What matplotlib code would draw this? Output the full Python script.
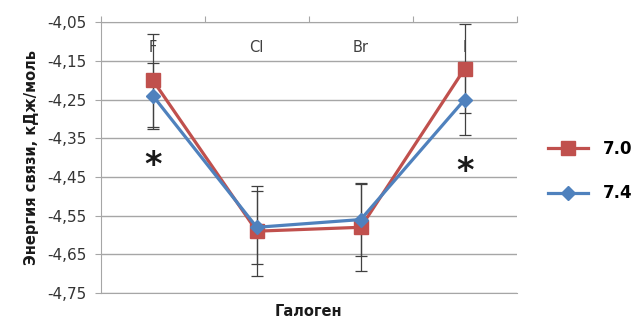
import matplotlib.pyplot as plt
import numpy as np

# Data
halogens = ["F", "Cl", "Br", "I"]
energy_70 = [-4.20, -4.59, -4.58, -4.17]
energy_74 = [-4.24, -4.58, -4.56, -4.25]
err_70 = [0.12, 0.117, 0.113, 0.115]
err_74 = [0.085, 0.095, 0.095, 0.092]
y_ticks = [-4.75, -4.65, -4.55, -4.45, -4.35, -4.25, -4.15, -4.05]
star_positions = [(1, -4.42), (4, -4.435)]

red = "#C0504D"
blue = "#4F81BD"
grid_color = "#A6A6A6"

fig = plt.figure(figsize=(6.34, 3.2), dpi=100)
ax = fig.add_axes([0.159, 0.084, 0.656, 0.847])

x = np.arange(1, len(halogens) + 1)

# error bars behind the lines
ax.errorbar(x, energy_70, yerr=err_70, fmt="none", ecolor="#404040",
            elinewidth=0.9, capsize=4.5, capthick=0.9, zorder=2)
ax.errorbar(x, energy_74, yerr=err_74, fmt="none", ecolor="#404040",
            elinewidth=0.9, capsize=4.5, capthick=0.9, zorder=2)

ax.plot(x, energy_70, color=red, lw=2.3, marker="s", markersize=9.5,
        label="7.0", zorder=3)
ax.plot(x, energy_74, color=blue, lw=2.3, marker="D", markersize=7.5,
        label="7.4", zorder=4)

ax.set_xlim(0.5, 4.5)
ax.set_ylim(-4.75, -4.05)
ax.set_yticks(y_ticks)
ax.set_yticklabels([f"{v:.2f}".replace(".", ",") for v in y_ticks],
                   fontsize=11, color="#333333")
ax.yaxis.grid(True, color=grid_color, lw=1)
ax.set_axisbelow(True)
ax.tick_params(axis="y", length=4, color=grid_color, pad=6)

# category axis sits at the top
ax.xaxis.tick_top()
ax.set_xticks(np.arange(0.5, 4.6, 1.0))
ax.set_xticklabels([])
ax.tick_params(axis="x", length=4, color=grid_color, direction="out")
for xi, name in zip(x, halogens):
    ax.text(xi, -4.115, name, ha="center", va="center", fontsize=10.5,
            color="#404040")

ax.spines["right"].set_visible(False)
for side in ["left", "top", "bottom"]:
    ax.spines[side].set_color(grid_color)

for sx, sy in star_positions:
    ax.text(sx, sy, "*", ha="center", va="center", fontsize=24,
            fontweight="bold", color="#1a1a1a")

ax.set_ylabel("Энергия связи, кДж/моль", fontsize=10.5, fontweight="bold",
              color="#1a1a1a", labelpad=6)
ax.set_xlabel("Галоген", fontsize=10.5, fontweight="bold", color="#1a1a1a")
ax.xaxis.set_label_position("bottom")
ax.xaxis.labelpad = 8

leg = ax.legend(loc="center left", bbox_to_anchor=(1.04, 0.45), frameon=False,
                prop={"size": 12, "weight": "bold"}, handlelength=2.4,
                labelspacing=1.6, handletextpad=0.9)

fig.savefig("out.png", dpi=100)
